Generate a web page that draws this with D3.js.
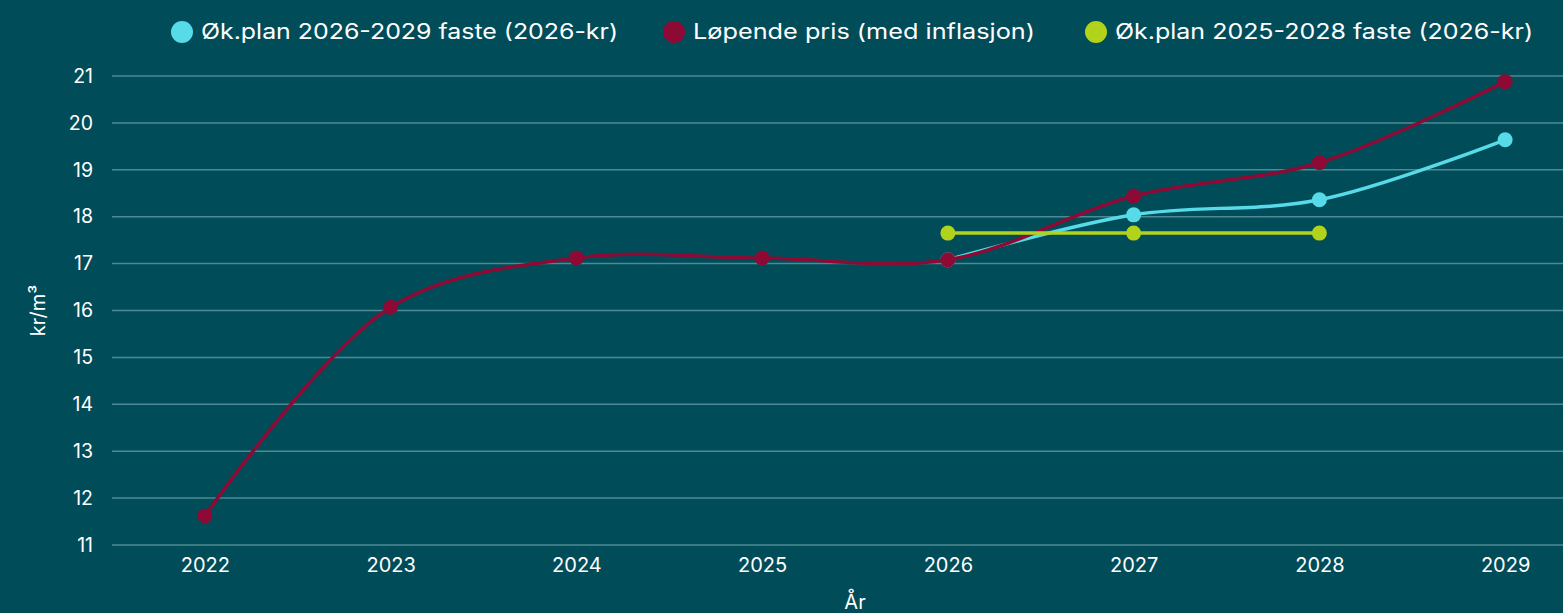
<!DOCTYPE html>
<html><head><meta charset="utf-8">
<script src="https://cdn.jsdelivr.net/npm/d3@7"></script>
<style>
html,body{margin:0;padding:0;background:#014c59;overflow:hidden}
svg{display:block}
text{font-family:"Inter","Open Sans",sans-serif;fill:#ffffff}
</style></head>
<body>
<svg id="c" width="1563" height="613"></svg>
<script>
const years = ["2022","2023","2024","2025","2026","2027","2028","2029"];
const plan2629 = [null,null,null,null,17.08,18.04,18.36,19.64];
const lopende = [11.62,16.07,17.12,17.12,17.08,18.44,19.15,20.88];
const plan2528 = [null,null,null,null,17.65,17.65,17.65,null];
const yTicks = [11,12,13,14,15,16,17,18,19,20,21];
const seriesNames = ["Øk.plan 2026-2029 faste (2026-kr)","Løpende pris (med inflasjon)","Øk.plan 2025-2028 faste (2026-kr)"];
const colors = ["#57dbe8","#8d0a34","#b2d31b"];

(function(){
const svg = d3.select("#c");
const pl=112, pr=1598, pt=76, pb=545;
const x = d3.scalePoint().domain(years).range([pl,pr]).padding(0.5);
const y = d3.scaleLinear().domain([11,21]).range([pb,pt]);

svg.append("g").selectAll("line").data(yTicks).join("line")
  .attr("x1",pl).attr("x2",1563).attr("y1",d=>y(d)).attr("y2",d=>y(d))
  .attr("stroke","#4d8a94").attr("stroke-width",1.5);

const ya = svg.append("g").attr("transform",`translate(${pl},0)`)
  .call(d3.axisLeft(y).tickValues(yTicks).tickSize(0).tickPadding(19));
ya.select(".domain").remove();
ya.selectAll("text").attr("font-size",19.5).attr("fill","#fff").attr("font-family","Inter, sans-serif");

const xa = svg.append("g").attr("transform",`translate(0,${pb})`)
  .call(d3.axisBottom(x).tickSize(0).tickPadding(13));
xa.select(".domain").remove();
xa.selectAll("text").attr("font-size",20).attr("fill","#fff").attr("font-family","Inter, sans-serif");

svg.append("text").attr("x",(pl+pr)/2).attr("y",609).attr("text-anchor","middle")
  .attr("font-size",20).text("År");
svg.append("text").attr("transform",`translate(45,${(pt+pb)/2}) rotate(-90)`)
  .attr("text-anchor","middle").attr("font-size",20).text("kr/m³");

const line = d3.line().x(d=>x(d.k)).y(d=>y(d.v))
  .curve(d3.curveCatmullRom.alpha(0.5));
const straight = d3.line().x(d=>x(d.k)).y(d=>y(d.v));
const all = [plan2629, lopende, plan2528];
all.forEach((arr,i)=>{
  const data = years.map((k,j)=>({k, v:arr[j]})).filter(d=>d.v!=null);
  const g = svg.append("g");
  g.append("path").datum(data).attr("d", i===2 ? straight : line)
    .attr("fill","none").attr("stroke",colors[i]).attr("stroke-width",3.5);
  g.selectAll("circle").data(data).join("circle")
    .attr("cx",d=>x(d.k)).attr("cy",d=>y(d.v)).attr("r",7.5).attr("fill",colors[i]);
});

const legX = [182,674,1096];
const legW = [417,342,418];
seriesNames.forEach((n,i)=>{
  svg.append("circle").attr("cx",legX[i]).attr("cy",32).attr("r",11).attr("fill",colors[i]);
  svg.append("text").attr("x",legX[i]+19).attr("y",39).attr("font-size",21)
    .attr("textLength",legW[i]).attr("lengthAdjust","spacingAndGlyphs").text(n);
});
})();
</script>
</body></html>
